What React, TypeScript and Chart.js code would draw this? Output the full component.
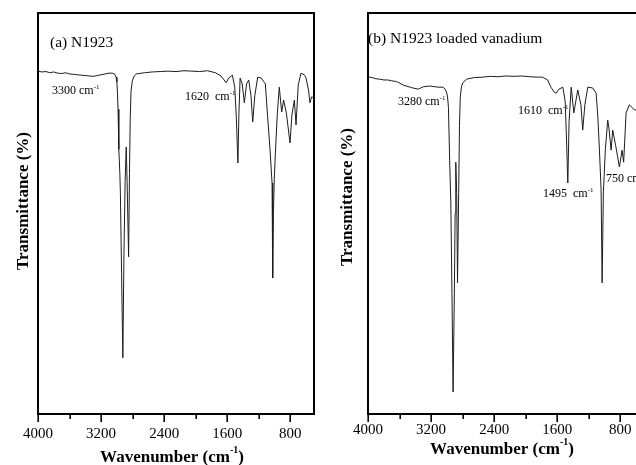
import React, { useEffect, useRef } from "react";
import { Chart, registerables } from "chart.js";

Chart.register(...registerables);

// ---- data ----
const wavenumberA = [
  4000, 3950, 3900, 3850, 3800, 3750, 3700, 3650, 3600, 3550, 3500, 3450, 3400, 3350, 3300, 3250, 3200, 3150, 3100, 3060,
  3030, 3010, 3000, 2992, 2985, 2975, 2962, 2955, 2940, 2924, 2910, 2895, 2881, 2870, 2851, 2840, 2830, 2820, 2805, 2780, 2754,
  2650, 2550, 2450, 2350, 2250, 2150, 2050, 1950, 1850, 1750, 1680, 1640, 1615, 1580, 1535,
  1505, 1485, 1465, 1452, 1437, 1410, 1383, 1355, 1328, 1300, 1277, 1250, 1214, 1171, 1130, 1117,
  1088, 1057, 1032, 1024, 1015, 1004, 990, 965, 940, 910, 885, 850, 804, 780, 749, 728, 700, 665, 620, 601,
  570, 551, 530, 500,
];
const transmittanceA = [
  85.5, 85.3, 85.4, 85.1, 85.3, 85.0, 84.9, 85.1, 84.8, 84.7, 84.6, 84.5, 84.4, 84.3, 84.2, 84.4, 84.6, 84.8, 85.0, 85.0,
  84.8, 84.0, 82.8, 80.0, 76.0, 66.0, 60.0, 55.0, 35.0, 14.0, 40.0, 58.0, 66.6, 58.0, 39.2, 60.0, 74.0, 80.5, 83.0, 84.3, 84.8,
  85.1, 85.3, 85.4, 85.5, 85.4, 85.6, 85.5, 85.4, 85.6, 85.1, 84.3, 83.3, 82.6, 83.8, 84.5,
  81.5, 74.0, 62.6, 75.0, 83.8, 82.3, 77.6, 82.3, 83.3, 79.5, 72.8, 79.5, 84.0, 83.8, 82.7, 82.3,
  74.1, 65.8, 57.6, 33.9, 50.0, 58.4, 65.0, 75.0, 81.5, 75.3, 78.3, 75.0, 67.6, 74.6, 78.3, 72.1, 82.0, 85.0, 84.5, 83.8,
  80.8, 77.6, 79.1, 78.8,
];

const wavenumberB = [
  4000, 3950, 3900, 3850, 3800, 3750, 3700, 3637, 3550, 3450, 3364, 3300, 3216, 3150, 3100, 3050,
  3020, 3000, 2990, 2980, 2963, 2950, 2935, 2921, 2905, 2895, 2887, 2875, 2865, 2850, 2840, 2830, 2815, 2798, 2750,
  2650, 2550, 2450, 2350, 2250, 2150, 2050, 1950, 1850, 1786, 1723, 1680, 1640, 1613, 1580, 1529,
  1500, 1485, 1466, 1450, 1423, 1390, 1340, 1300, 1277, 1250, 1213, 1150, 1107,
  1085, 1065, 1044, 1031, 1015, 990, 960, 945, 917, 897, 860, 812, 778, 758, 727, 686, 644, 619, 560, 500,
];
const transmittanceB = [
  84.1, 83.9, 83.6, 83.5, 83.3, 83.3, 83.1, 82.9, 82.0, 81.4, 81.0, 81.6, 81.8, 81.6, 81.5, 81.5,
  81.0, 80.0, 78.8, 76.5, 62.0, 53.0, 30.0, 5.5, 30.0, 50.0, 62.8, 55.0, 32.7, 55.0, 72.0, 79.0, 81.6, 82.6, 83.5,
  83.9, 84.0, 84.2, 84.1, 84.3, 84.2, 84.3, 84.1, 84.0, 84.0, 83.3, 81.5, 80.3, 80.0, 81.0, 81.5,
  78.0, 70.0, 57.6, 73.0, 81.5, 75.1, 80.8, 77.1, 70.8, 77.1, 81.5, 81.3, 80.0,
  74.0, 65.8, 55.9, 32.7, 55.4, 66.0, 73.3, 71.3, 65.8, 70.8, 67.0, 61.6, 65.8, 62.8, 75.1, 77.1, 76.3, 75.8, 76.0, 77.0,
];

const majorTicks = [4000, 3200, 2400, 1600, 800];
const minorTicks = [3600, 2800, 2000, 1200];
const xTitleText = "Wavenumber (cm";
const yTitleText = "Transmittance (%)";
const panelTitleA = "(a) N1923";
const panelTitleB = "(b) N1923 loaded vanadium";
const peakLabelsA = ["3300 cm", "1620  cm"];
const peakLabelsB = ["3280 cm", "1610  cm", "1495  cm", "750 cm"];

const SERIF = "'Liberation Serif','Times New Roman',serif";

type Lbl = { text: string; x: number; y: number };
type PanelCfg = {
  waves: number[];
  values: number[];
  left: number;
  yTitle: { x: number; y: number };
  xTitle: { x: number; y: number };
  tickPad: number;
  title: Lbl;
  peaks: Lbl[];
};

function supWidth(ctx: CanvasRenderingContext2D, main: string, sup: string, tail: string, size: number, bold: boolean) {
  const b = bold ? "bold " : "";
  ctx.font = `${b}${size}px ${SERIF}`;
  let w = ctx.measureText(main).width + ctx.measureText(tail).width;
  ctx.font = `${b}${Math.round(size * 0.6)}px ${SERIF}`;
  w += ctx.measureText(sup).width;
  return w;
}

function drawSup(ctx: CanvasRenderingContext2D, x: number, y: number, main: string, sup: string, tail: string, size: number, bold: boolean) {
  const b = bold ? "bold " : "";
  ctx.font = `${b}${size}px ${SERIF}`;
  ctx.fillText(main, x, y);
  let cx = x + ctx.measureText(main).width;
  ctx.font = `${b}${Math.round(size * 0.6)}px ${SERIF}`;
  ctx.fillText(sup, cx, y - size * 0.42);
  cx += ctx.measureText(sup).width;
  if (tail) {
    ctx.font = `${b}${size}px ${SERIF}`;
    ctx.fillText(tail, cx, y);
  }
}

function makeDecor(cfg: PanelCfg) {
  return {
    id: "decor",
    afterDraw(chart: any) {
      const ctx: CanvasRenderingContext2D = chart.ctx;
      const a = chart.chartArea;
      const xs = chart.scales.x;
      ctx.save();
      ctx.strokeStyle = "#000";
      ctx.fillStyle = "#000";
      ctx.lineWidth = 2;
      ctx.strokeRect(a.left, a.top, a.right - a.left, a.bottom - a.top);
      ctx.lineWidth = 1.6;
      ctx.beginPath();
      for (const v of majorTicks) {
        const px = Math.round(xs.getPixelForValue(v)) + 0.2;
        ctx.moveTo(px, a.bottom);
        ctx.lineTo(px, a.bottom + 8);
      }
      for (const v of minorTicks) {
        const px = Math.round(xs.getPixelForValue(v)) + 0.2;
        ctx.moveTo(px, a.bottom);
        ctx.lineTo(px, a.bottom + 5);
      }
      ctx.stroke();

      ctx.textBaseline = "alphabetic";
      ctx.textAlign = "left";
      // panel title
      ctx.font = `15.5px ${SERIF}`;
      ctx.fillText(cfg.title.text, cfg.title.x, cfg.title.y);
      // peak labels
      for (const p of cfg.peaks) drawSup(ctx, p.x, p.y, p.text, "-1", "", 12, false);

      // x title
      ctx.textBaseline = "middle";
      const w = supWidth(ctx, xTitleText, "-1", ")", 17, true);
      drawSup(ctx, cfg.xTitle.x - w / 2, cfg.xTitle.y, xTitleText, "-1", ")", 17, true);

      // y title
      ctx.translate(cfg.yTitle.x, cfg.yTitle.y);
      ctx.rotate(-Math.PI / 2);
      ctx.textAlign = "center";
      ctx.font = `bold 17px ${SERIF}`;
      ctx.fillText(yTitleText, 0, 0);
      ctx.restore();
    },
  };
}

function Panel({ cfg }: { cfg: PanelCfg }) {
  const ref = useRef<HTMLCanvasElement | null>(null);
  useEffect(() => {
    if (!ref.current) return;
    const chart = new Chart(ref.current, {
      type: "line",
      data: {
        datasets: [
          {
            data: cfg.waves.map((w, i) => ({ x: w, y: cfg.values[i] })),
            borderColor: "#1c1c1c",
            borderWidth: 1,
            pointRadius: 0,
            tension: 0,
            fill: false,
          },
        ],
      },
      options: {
        animation: false,
        responsive: false,
        devicePixelRatio: 1,
        layout: { padding: { left: 38, top: 13, right: 16, bottom: 0 } },
        plugins: { legend: { display: false }, tooltip: { enabled: false } },
        scales: {
          x: {
            type: "linear",
            reverse: true,
            min: 500,
            max: 4000,
            grid: { display: false, drawTicks: false },
            border: { display: false },
            ticks: {
              color: "#000",
              font: { family: SERIF, size: 15 },
              padding: cfg.tickPad,
              maxRotation: 0,
              autoSkip: false,
              callback: (v: any) => String(v),
            },
            afterBuildTicks: (axis: any) => {
              axis.ticks = majorTicks.map((v) => ({ value: v }));
            },
            afterFit: (axis: any) => {
              axis.height = 51;
            },
          },
          y: { display: false, min: 0, max: 100 },
        },
      } as any,
      plugins: [makeDecor(cfg)],
    });
    return () => chart.destroy();
  }, []);
  return (
    <canvas
      ref={ref}
      width={330}
      height={465}
      style={{ position: "absolute", left: cfg.left, top: 0, width: 330, height: 465 }}
    />
  );
}

const panelA: PanelCfg = {
  waves: wavenumberA,
  values: transmittanceA,
  left: 0,
  yTitle: { x: 24, y: 201 },
  xTitle: { x: 172, y: 458 },
  tickPad: 11,
  title: { text: panelTitleA, x: 50, y: 47 },
  peaks: [
    { text: peakLabelsA[0], x: 52, y: 94 },
    { text: peakLabelsA[1], x: 185, y: 100 },
  ],
};

const panelB: PanelCfg = {
  waves: wavenumberB,
  values: transmittanceB,
  left: 330,
  yTitle: { x: 18, y: 197 },
  xTitle: { x: 172, y: 450 },
  tickPad: 7,
  title: { text: panelTitleB, x: 38, y: 43 },
  peaks: [
    { text: peakLabelsB[0], x: 68, y: 105 },
    { text: peakLabelsB[1], x: 188, y: 114 },
    { text: peakLabelsB[2], x: 213, y: 197 },
    { text: peakLabelsB[3], x: 276, y: 182 },
  ],
};

export default function App() {
  return (
    <div
      style={{
        position: "absolute",
        left: 0,
        top: 0,
        width: 636,
        height: 465,
        overflow: "hidden",
        background: "#fff",
      }}
    >
      <Panel cfg={panelA} />
      <Panel cfg={panelB} />
    </div>
  );
}
